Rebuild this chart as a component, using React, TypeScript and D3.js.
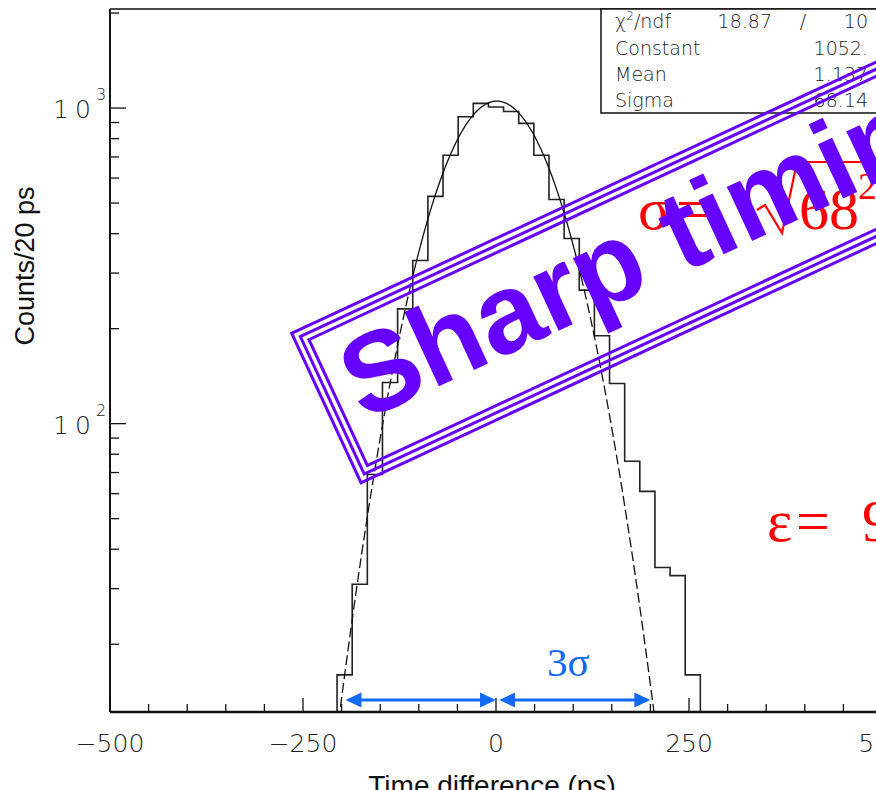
import React from 'react';
import * as d3 from 'd3';

// ---- data ----
const histLow = -500;
const histHigh = 500;
// 51 bins of ~19.6 ps
const counts = [
  0, 0, 0, 0, 0, 0, 0, 0, 0, 0, 0, 1, 2, 4, 7,
  16, 31, 69, 135, 231, 329, 525, 709, 939, 1035, 1008, 975, 894, 709, 513, 386, 265, 190, 134, 76, 61, 35, 33, 16,
  8, 5, 3, 1, 0, 0, 0, 0, 0, 0, 0, 0,
];
const fitConstant = 1052;
const fitMean = 1.137;
const fitSigma = 68.14;
const statsLabels = ['Constant', 'Mean', 'Sigma'];
const statsValues = ['1052.', '1.137', '68.14'];
const chi2Text = '18.87';
const ndfText = '10';
const xDomain = [-500, 500];
const yDomain = [12.2, 2060];
const xMajorTicks = [-500, -250, 0, 250, 500];
const xMinorTicks = d3.range(-500, 501, 50);
const yMajorTicks = [100, 1000];
const yMinorTicks = [20, 30, 40, 50, 60, 70, 80, 90, 200, 300, 400, 500, 600, 700, 800, 900, 2000];
const yMajorExp = ['2', '3'];
const arrowSpans = [[-195, 0], [4, 200]];

const thinFont = "'DejaVu Sans', sans-serif";

export default function App() {
  const W = 876, H = 790;
  const left = 110, right = 882, top = 9, bottom = 712;
  const x = d3.scaleLinear().domain(xDomain).range([left, right]);
  const y = d3.scaleLog().domain(yDomain).range([bottom, top]);
  const binW = (histHigh - histLow) / counts.length;

  let hist = '';
  counts.forEach((c, i) => {
    const x0 = x(histLow + i * binW);
    const x1 = x(histLow + (i + 1) * binW);
    const yy = Math.min(y(Math.max(c, 1)), bottom + 20);
    hist += (i === 0 ? `M${x0},${yy}` : `L${x0},${yy}`) + `L${x1},${yy}`;
  });

  const gauss = (t: number) => fitConstant * Math.exp(-0.5 * ((t - fitMean) / fitSigma) ** 2);
  const line = d3.line<number>().x(t => x(t)).y(t => Math.min(y(Math.max(gauss(t), 1)), bottom + 20));
  const leftDash = d3.range(-300, -107.9, 1);
  const mid = d3.range(-108, 110.1, 1);
  const rightDash = d3.range(110, 300.1, 1);

  const blue = '#116af1';
  const purple = '#6600ff';
  const arrowY = 700;

  return (
    <svg width={W} height={H} style={{ position: 'absolute', left: 0, top: 0, background: '#fff' }}>
      <defs>
        <clipPath id="frame">
          <rect x={left} y={top} width={right - left} height={bottom - top} />
        </clipPath>
      </defs>
      <rect x={0} y={0} width={W} height={H} fill="#fff" />

      {/* histogram and fit */}
      <g clipPath="url(#frame)">
        <path d={hist} fill="none" stroke="#222" strokeWidth={1.6} />
        <path d={line(mid) || ''} fill="none" stroke="#111" strokeWidth={1.3} />
        <path d={line(leftDash) || ''} fill="none" stroke="#111" strokeWidth={1.3} strokeDasharray="10,4" />
        <path d={line(rightDash) || ''} fill="none" stroke="#111" strokeWidth={1.3} strokeDasharray="10,4" />
      </g>

      {/* frame */}
      <line x1={left} x2={right} y1={top} y2={top} stroke="#111" strokeWidth={1.5} />
      <line x1={left} x2={left} y1={top} y2={bottom} stroke="#111" strokeWidth={2} />
      <line x1={left} x2={right} y1={bottom} y2={bottom} stroke="#111" strokeWidth={2.5} />

      {/* x ticks */}
      {xMinorTicks.map(t => (
        <line key={'xm' + t} x1={x(t)} x2={x(t)} y1={bottom} y2={bottom - (xMajorTicks.includes(t) ? 14 : 8)} stroke="#111" strokeWidth={1.3} />
      ))}
      {xMajorTicks.map(t => (
        <text key={'xl' + t} x={x(t)} y={752} textAnchor="middle" fontFamily={thinFont} fontWeight={200} fontSize={25} fill="#222">
          {t < 0 ? '\u2212' + Math.abs(t) : String(t)}
        </text>
      ))}

      {/* y ticks */}
      {yMinorTicks.map(v => (
        <line key={'ym' + v} x1={left} x2={left + 9} y1={y(v)} y2={y(v)} stroke="#111" strokeWidth={1.3} />
      ))}
      {yMajorTicks.map((v, i) => (
        <g key={'yl' + v}>
          <line x1={left} x2={left + 16} y1={y(v)} y2={y(v)} stroke="#111" strokeWidth={1.3} />
          <text x={53} y={y(v) + 10} fontFamily={thinFont} fontWeight={200} fontSize={25} letterSpacing={6} fill="#222">10</text>
          <text x={96} y={y(v) - 8} fontFamily={thinFont} fontWeight={200} fontSize={16} fill="#222">{yMajorExp[i]}</text>
        </g>
      ))}

      {/* axis titles */}
      <text transform="translate(34,266) rotate(-90)" textAnchor="middle" fontFamily="'Liberation Sans', Arial, sans-serif" fontSize={27} fill="#111">Counts/20 ps</text>
      <text x={492} y={795} textAnchor="middle" fontFamily="'Liberation Sans', Arial, sans-serif" fontSize={28} fill="#111">Time difference (ps)</text>

      {/* stats box */}
      <rect x={601} y={top} width={300} height={104} fill="#fff" stroke="#111" strokeWidth={1.5} />
      <g fontFamily={thinFont} fontWeight={200} fontSize={19} fill="#222">
        <text x={615} y={28}>χ<tspan dy={-8} fontSize={12}>2</tspan><tspan dy={8}>/ndf</tspan></text>
        <text x={772} y={28} textAnchor="end">{chi2Text}</text>
        <text x={803} y={28} textAnchor="middle">/</text>
        <text x={868} y={28} textAnchor="end">{ndfText}</text>
        {statsLabels.map((l, i) => (
          <g key={l}>
            <text x={615} y={55 + i * 26}>{l}</text>
            <text x={868} y={55 + i * 26} textAnchor="end">{statsValues[i]}</text>
          </g>
        ))}
      </g>

      {/* 3 sigma arrows */}
      {arrowSpans.map(([a, b], i) => {
        const xa = x(a), xb = x(b);
        return (
          <g key={'ar' + i} fill={blue}>
            <line x1={xa + 12} x2={xb - 12} y1={arrowY} y2={arrowY} stroke={blue} strokeWidth={3} />
            <path d={`M${xa},${arrowY} L${xa + 16},${arrowY - 7.5} L${xa + 16},${arrowY + 7.5} Z`} />
            <path d={`M${xb},${arrowY} L${xb - 16},${arrowY - 7.5} L${xb - 16},${arrowY + 7.5} Z`} />
          </g>
        );
      })}
      <text x={547} y={676} fontFamily="'Liberation Serif', 'Times New Roman', serif" fontSize={41} fill={blue}>3σ</text>

      {/* red annotations */}
      <g fill="#ff0000" fontFamily="'Liberation Serif', 'Times New Roman', serif" fontSize={60}>
        <text x={638} y={229}>σ</text>
        <text x={676} y={229}>=</text>
        <path d="M757,210 L765,205 L782,233 L797,162 L880,162" fill="none" stroke="#ff0000" strokeWidth={2.2} />
        <text x={799} y={229}>68</text>
        <text x={858} y={199} fontSize={38}>2</text>
        <text x={767} y={541}>ε</text>
        <text x={796} y={541}>=</text>
        <text x={862} y={541}>9</text>
      </g>

      {/* stamp */}
      <g transform="translate(291.7,333.3) rotate(-24.9)">
        {[0, 6.5, 13].map(o => (
          <rect key={o} x={o} y={o} width={900 - 2 * o} height={164.7 - 2 * o} fill="none" stroke={purple} strokeWidth={3} />
        ))}
        <text x={28} y={110} fontFamily="'Liberation Sans', Arial, sans-serif" fontWeight="bold" fontSize={113} fill={purple}>Sharp timing</text>
      </g>
    </svg>
  );
}
